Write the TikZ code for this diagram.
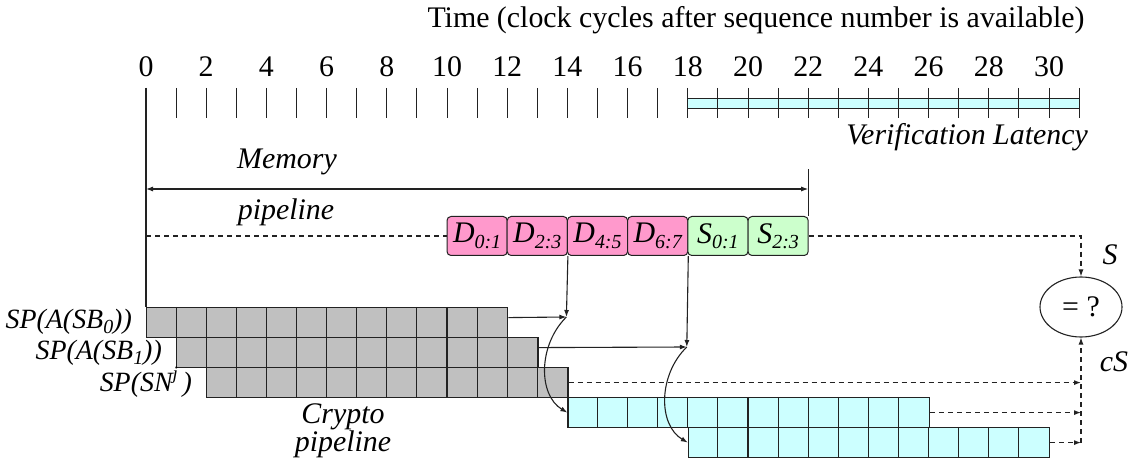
\documentclass[tikz,border=0pt]{standalone}
\usepackage{fontspec}
\setmainfont{Liberation Serif}
\usetikzlibrary{arrows.meta,shapes.geometric,calc}
\definecolor{gcell}{HTML}{C0C0C0}
\definecolor{ccell}{HTML}{CCFFFF}
\definecolor{pcell}{HTML}{FF99CC}
\definecolor{scell}{HTML}{CCFFCC}
\definecolor{edge}{HTML}{222222}
\newcommand\mysub[1]{\raisebox{-0.4ex}{\fontsize{20}{20}\selectfont\itshape #1}}
\newcommand\mysup[1]{\raisebox{0.9ex}{\fontsize{19}{19}\selectfont\itshape #1}}
\def\u{30.1}
\begin{document}
\begin{tikzpicture}[x=1bp,y=-1bp,font=\fontsize{30}{36}\selectfont,
  cellrow/.style={draw=edge,line width=1.2bp,minimum height=30bp,minimum width=361.2bp,inner sep=0pt,anchor=north west},
  memblk/.style={draw=edge,line width=1bp,rounded corners=4bp,minimum width=60.2bp,minimum height=39bp,inner sep=0pt},
  tip/.style={-{Latex[length=7bp,width=5bp]}},
  conn/.style={line width=1.1bp,edge},
  dashconn/.style={conn,dash pattern=on 5bp off 4bp},
  lbl/.style={inner sep=0pt,font=\fontsize{30}{36}\selectfont\itshape},
  leftlbl/.style={inner sep=0pt,anchor=east,font=\fontsize{28}{34}\selectfont\itshape}
]
\useasboundingbox (0,0) rectangle (1136,465);

% title and time axis
\node[inner sep=0pt] (title) at (756,20) {Time (clock cycles after sequence number is available)};
\draw[edge,line width=1bp,fill=ccell] ({146+\u*18},99) rectangle ({146+\u*31},109);
\foreach \t in {0,...,31} \draw[edge,line width=1bp] ({146+\u*\t},88) -- ({146+\u*\t},118);
\foreach \t in {0,2,...,30} \node[inner sep=0pt] (n\t) at ({146+\u*\t},67) {\t};
\node[lbl,anchor=east] (vl) at (1088,137) {Verification Latency};

% memory blocks
\node[memblk,fill=pcell] (d01) at ({146+\u*11},236) {\textit{D}\mysub{0:1}};
\node[memblk,fill=pcell] (d23) at ({146+\u*13},236) {\textit{D}\mysub{2:3}};
\node[memblk,fill=pcell] (d45) at ({146+\u*15},236) {\textit{D}\mysub{4:5}};
\node[memblk,fill=pcell] (d67) at ({146+\u*17},236) {\textit{D}\mysub{6:7}};
\node[memblk,fill=scell] (s01) at ({146+\u*19},236) {\textit{S}\mysub{0:1}};
\node[memblk,fill=scell] (s23) at ({146+\u*21},236) {\textit{S}\mysub{2:3}};

% crypto rows
\node[cellrow,fill=gcell] (g1) at (146,307) {};
\node[cellrow,fill=gcell] (g2) at ({146+\u},337) {};
\node[cellrow,fill=gcell] (g3) at ({146+2*\u},367) {};
\node[cellrow,fill=ccell] (c1) at ({146+14*\u},397) {};
\node[cellrow,fill=ccell] (c2) at ({146+18*\u},427) {};
\foreach \r in {g1,g2,g3,c1,c2}
  \foreach \i in {1,...,11}
    \draw[edge,line width=1.1bp] ($(\r.north west)+(\i*\u,0)$) -- ++(0,30);

% memory pipeline span
\coordinate (top0) at (146,88);
\coordinate (ml) at (146,189);
\coordinate (mr) at ({146+\u*22},189);
\draw[conn] (top0) -- (g1.north west);
\draw[conn] (s23.north east) -- ++(0,-47);
\draw[conn,{Latex[length=7bp,width=5bp]}-{Latex[length=7bp,width=5bp]}] (ml) -- (mr);
\node[lbl] (mem1) at (287,162) {Memory};
\node[lbl] (mem2) at (286,212) {pipeline};

% comparator
\node[draw=edge,line width=1.1bp,ellipse,minimum width=82bp,minimum height=60bp,inner sep=0pt] (eq) at (1081,307) {= ?};
\node[lbl] (lS) at (1110,255) {S};
\node[lbl] (lcS) at (1114,362) {cS};

% dashed paths
\coordinate (dl) at (146,236);
\draw[dashconn] (dl) -- (d01.west);
\draw[dashconn,tip] (s23.east) -| (eq.north);
\draw[dashconn,tip] (g3.east) -- (g3.east -| eq.south);
\draw[dashconn,tip] (c1.east) -- (c1.east -| eq.south);
\draw[dashconn,tip] (c2.east) -- (c2.east -| eq.south);
\draw[dashconn,tip] (c2.east -| eq.south) -- (eq.south);

% data hand-off arrows
\coordinate (m1) at ({146+\u*14-1},317);
\coordinate (m2) at ({146+\u*18-1},347);
\draw[conn,tip] (d23.south east) -- (m1);
\draw[conn,tip] ($(g1.east)+(0,-5)$) -- (m1);
\draw[conn,tip] (m1) .. controls (538,345) and (538,395) .. (c1.west);
\draw[conn,tip] (d67.south east) -- (m2);
\draw[conn,tip] ($(g2.east)+(0,-5)$) -- (m2);
\draw[conn,tip] (m2) .. controls (658,375) and (658,425) .. (c2.west);

% row labels
\node[leftlbl] (l1) at (132,322) {SP(A(SB\mysub{0}))};
\node[leftlbl] (l2) at (162,353) {SP(A(SB\mysub{1}))};
\node[leftlbl] (l3) at (192,382) {SP(SN\mysup{j}\,)};
\node[inner sep=0pt,align=center,font=\fontsize{30}{26}\selectfont\itshape] (cr) at (343,431) {Crypto\\pipeline};
\end{tikzpicture}
\end{document}
